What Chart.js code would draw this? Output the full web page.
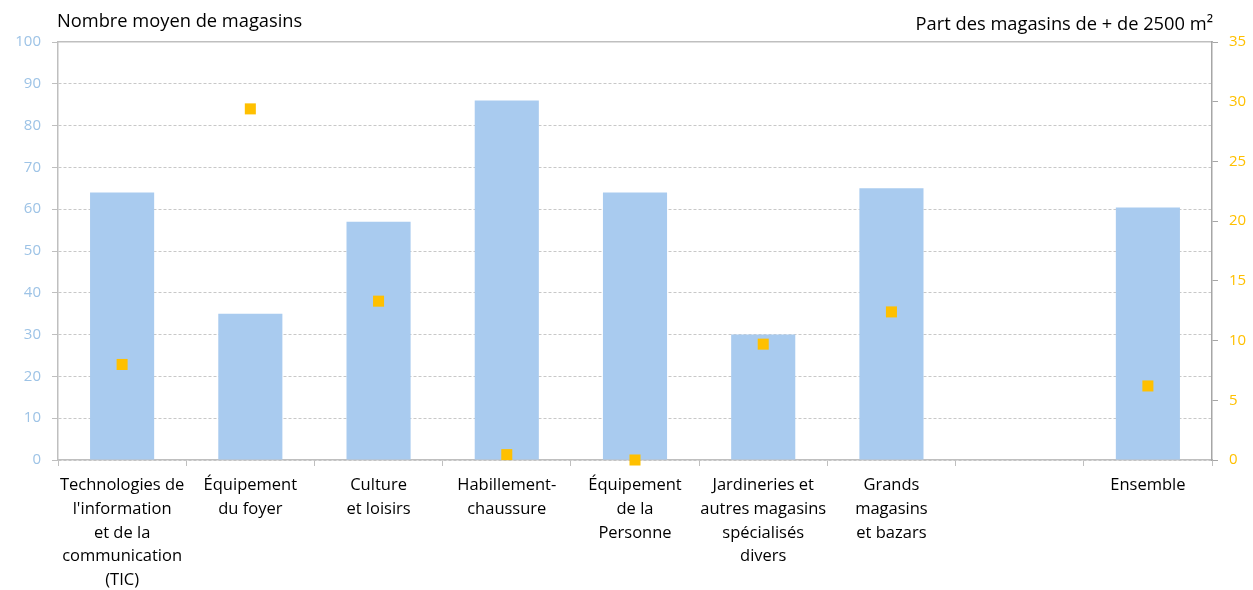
<!DOCTYPE html>
<html>
<head>
<meta charset="utf-8">
<script src="https://cdn.jsdelivr.net/npm/chart.js@4/dist/chart.umd.min.js"></script>
<style>
html,body{margin:0;padding:0;background:#fff;}
#wrap{position:relative;width:1253px;height:590px;}
</style>
</head>
<body>
<div id="wrap"><canvas id="c" width="1253" height="590"></canvas></div>
<script>
const categories = [
  ["Technologies de", "l'information", "et de la", "communication", "(TIC)"],
  ["Équipement", "du foyer"],
  ["Culture", "et loisirs"],
  ["Habillement-", "chaussure"],
  ["Équipement", "de la", "Personne"],
  ["Jardineries et", "autres magasins", "spécialisés", "divers"],
  ["Grands", "magasins", "et bazars"],
  "",
  "Ensemble"
];
const nombreMoyen = [64, 35, 57, 86, 64, 30, 65, null, 60.4];
const partGrands = [8.0, 29.4, 13.3, 0.45, 0, 9.7, 12.4, null, 6.2];
const leftTitle = "Nombre moyen de magasins";
const rightTitle = "Part des magasins de + de 2500 m²";

const FONT = "'Open Sans', sans-serif";

const titles = {
  id: 'titles',
  afterDraw(chart) {
    const ctx = chart.ctx;
    const a = chart.chartArea;
    ctx.save();
    ctx.fillStyle = '#000';
    ctx.font = "18.3px " + FONT;
    ctx.textBaseline = 'middle';
    ctx.textAlign = 'left';
    ctx.fillText(leftTitle, a.left - 1, 22);
    ctx.textAlign = 'right';
    ctx.fillText(rightTitle, a.right + 1, 25);
    ctx.restore();
  }
};

new Chart(document.getElementById('c'), {
  data: {
    labels: categories,
    datasets: [
      {
        type: 'scatter',
        label: rightTitle,
        data: partGrands,
        yAxisID: 'y1',
        xAxisID: 'x',
        showLine: false,
        pointStyle: 'rect',
        pointRadius: 7.8,
        pointHoverRadius: 7.8,
        pointBorderWidth: 0,
        backgroundColor: '#FFC000',
        borderColor: '#FFC000',
        clip: false,
        order: 0
      },
      {
        type: 'bar',
        label: leftTitle,
        data: nombreMoyen,
        yAxisID: 'y',
        xAxisID: 'x',
        backgroundColor: '#A9CBEF',
        borderWidth: 0,
        categoryPercentage: 1,
        barPercentage: 0.5,
        order: 1
      }
    ]
  },
  options: {
    responsive: false,
    animation: false,
    devicePixelRatio: 1,
    layout: { padding: { top: 42, left: 0, right: 0, bottom: 0 } },
    plugins: { legend: { display: false }, tooltip: { enabled: false } },
    scales: {
      x: {
        type: 'category',
        position: 'bottom',
        offset: true,
        grid: { display: true, drawOnChartArea: false, offset: true, tickLength: 6, color: '#BFBFBF', tickColor: '#BFBFBF' },
        border: { display: true, color: '#BFBFBF', width: 1.5 },
        ticks: { color: '#000', font: { family: FONT, size: 16.5, lineHeight: 1.45 }, padding: 7, maxRotation: 0, autoSkip: false },
        afterFit(s) { s.height = 130; }
      },
      xTop: {
        type: 'category',
        position: 'top',
        labels: categories,
        grid: { display: false },
        ticks: { display: false },
        border: { display: true, color: '#BFBFBF', width: 1.5 },
        afterFit(s) { s.height = 0; }
      },
      y: {
        position: 'left',
        min: 0, max: 100,
        ticks: { stepSize: 10, color: '#9DC3E6', font: { family: FONT, size: 15 }, padding: 11 },
        grid: {
          color: (c) => c.tick && c.tick.value === 100 ? 'rgba(0,0,0,0)' : '#C8C8C8',
          tickColor: '#BFBFBF',
          tickLength: 6,
          lineWidth: 1
        },
        border: { display: true, color: '#BFBFBF', width: 1.5, dash: [3, 2] },
        afterFit(s) { s.width = 58; }
      },
      y1: {
        position: 'right',
        min: 0, max: 35,
        ticks: { stepSize: 5, color: '#FFC000', font: { family: FONT, size: 15 }, padding: 11 },
        grid: { drawOnChartArea: false, tickLength: 6, color: '#A6A6A6', tickColor: '#A6A6A6' },
        border: { display: true, color: '#A6A6A6', width: 1.5 },
        afterFit(s) { s.width = 41; }
      }
    }
  },
  plugins: [titles]
});
</script>
</body>
</html>
